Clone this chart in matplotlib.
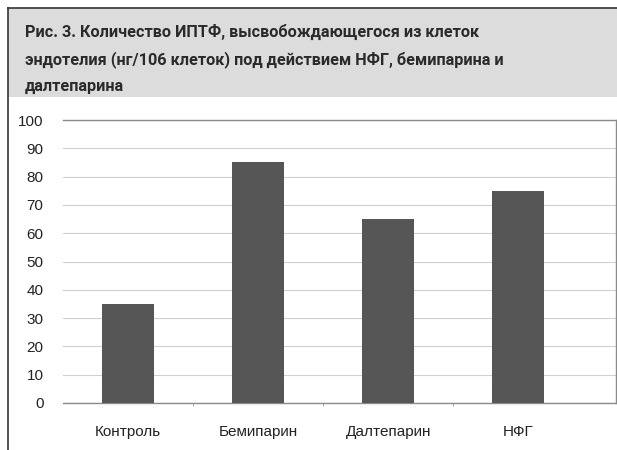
import numpy as np
import matplotlib.pyplot as plt
from matplotlib.lines import Line2D
from matplotlib.patches import Rectangle

# данные
categories = ['Контроль', 'Бемипарин', 'Далтепарин', 'НФГ']
values = [35, 85, 65, 75]
yticks = [0, 10, 20, 30, 40, 50, 60, 70, 80, 90, 100]
title_lines = ['Рис. 3. Количество ИПТФ, высвобождающегося из клеток',
               'эндотелия (нг/106 клеток) под действием НФГ, бемипарина и',
               'далтепарина']

W, H = 617, 450
fig = plt.figure(figsize=(W/100, H/100), dpi=100)
fig.patch.set_facecolor('white')

# серая плашка с заголовком
fig.patches.append(Rectangle((8/W, 1 - 97/H), 1, 89/H, transform=fig.transFigure,
                             facecolor='#dcdcdc', edgecolor='none', zorder=0))
fig.lines.append(Line2D([8/W, 8/W], [0, 1 - 8/H], transform=fig.transFigure,
                        color='#333333', lw=1.2))
fig.lines.append(Line2D([8/W, 1], [1 - 8/H, 1 - 8/H], transform=fig.transFigure,
                        color='#333333', lw=1.2))
for i, line in enumerate(title_lines):
    fig.text(25/W, 1 - (37 + 27*i)/H, line, fontsize=11.7, fontweight='bold',
             family='Roboto', color='#2a2a2a', va='baseline', ha='left')

# область графика
left, right, top, bottom = 63, 616, 120, 403
ax = fig.add_axes([left/W, 1 - bottom/H, (right-left)/W, (bottom-top)/H])
x = np.arange(len(categories))
ax.bar(x, values, width=0.4, color='#565656', zorder=3)
ax.set_xlim(-0.5, 3.75)
ax.set_ylim(0, 100)
ax.set_yticks(yticks)
ax.set_xticks(x)
ax.set_xticklabels(categories)
ax.set_xticks([0.5, 1.5, 2.5], minor=True)
ax.tick_params(axis='x', which='minor', length=2, color='#999999')
ax.tick_params(axis='both', which='major', length=0, labelsize=11, colors='#222222')
ax.tick_params(axis='y', pad=14)
ax.tick_params(axis='x', pad=16)
for lab in ax.get_xticklabels() + ax.get_yticklabels():
    lab.set_family('Liberation Sans')
ax.grid(axis='y', color='#d0d0d0', lw=0.8, zorder=0)
for s in ['top', 'right', 'left', 'bottom']:
    ax.spines[s].set_color('#8a8a8a')
    ax.spines[s].set_linewidth(1)
ax.spines['left'].set_visible(False)

fig.savefig('out.png', dpi=100)
